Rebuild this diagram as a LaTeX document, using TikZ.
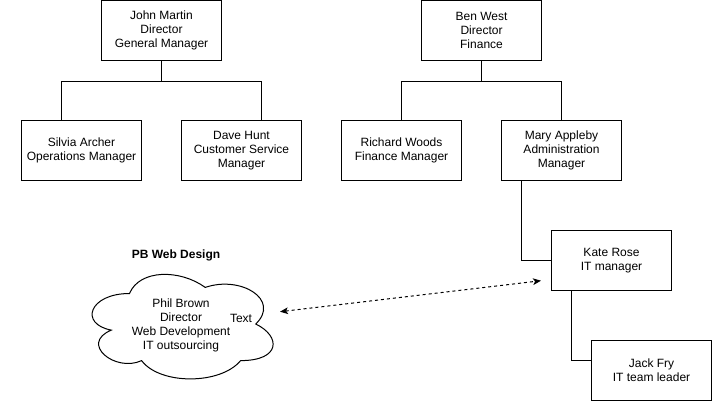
\documentclass[tikz,border=0pt]{standalone}
\usepackage{fontspec}
\setmainfont{Liberation Sans}
\usepackage{tikz}
\usetikzlibrary{arrows.meta}

\newcommand{\orgfont}{\fontsize{9}{10.5}\selectfont}

\begin{document}
\begin{tikzpicture}[x=0.75pt, y=-0.75pt,
    orgbox/.style={draw, line width=0.75pt, minimum width=90pt,
    minimum height=45pt, align=center, font=\orgfont},
    tree/.style={line width=0.75pt, to path={(\tikztostart.south) -- ++(0,20) -| ([xshift=#1]\tikztotarget.north)}},
    tree/.default=0pt,
    link/.style={line width=0.75pt, dash pattern=on 2.25pt off 2.25pt,
    {Stealth[length=6pt, width=5pt, inset=1.5pt]}-{Stealth[length=6pt, width=5pt, inset=1.5pt]}}]
    \useasboundingbox (0,0) rectangle (712,401);
    % first branch
    \node[orgbox] (john)    at (161.5,30.5)  {John Martin\\Director\\General Manager};
    \node[orgbox] (silvia)  at (81.5,150.5)  {Silvia Archer\\Operations Manager};
    \node[orgbox] (dave)    at (241.5,150.5) {Dave Hunt\\Customer Service\\Manager};
    % second branch
    \node[orgbox] (ben)     at (481.5,30.5)  {Ben West\\Director\\Finance};
    \node[orgbox] (richard) at (401.5,150.5) {Richard Woods\\Finance Manager};
    \node[orgbox] (mary)    at (561.5,150.5) {Mary Appleby\\Administration\\Manager};
    \node[orgbox] (kate)    at (611.5,260.5) {Kate Rose\\IT manager};
    \node[orgbox] (jack)    at (651.5,370.5) {Jack Fry\\IT team leader};
    \path
      (john) edge[tree=-15pt] (silvia)
             edge[tree=15pt] (dave)
      (ben)  edge[tree] (richard)
             edge[tree] (mary);
    \draw[line width=0.75pt] ([xshift=15pt]mary.south west) |- (kate.west);
    \draw[line width=0.75pt] ([xshift=15pt]kate.south west) |- ([yshift=7.5pt]jack.west);
    % outsourcing cloud
    \begin{scope}[shift={(79,263)}, x=151.5pt, y=-91.5pt]
      \draw[line width=0.75pt] (0.25,0.25) .. controls (0.05,0.25) and (0,0.5) .. (0.16,0.55)
        .. controls (0,0.66) and (0.18,0.9) .. (0.31,0.8)
        .. controls (0.4,1) and (0.7,1) .. (0.8,0.8)
        .. controls (1,0.8) and (1,0.6) .. (0.875,0.5)
        .. controls (1,0.3) and (0.8,0.1) .. (0.625,0.2)
        .. controls (0.5,0.05) and (0.3,0.05) .. (0.25,0.25) -- cycle;
    \end{scope}
    \node[font=\orgfont\bfseries] (pbweb) at (176,255) {PB Web Design};
    \node[font=\orgfont, align=center] (phil) at (181,325.5) {Phil Brown\\Director\\Web Development\\IT outsourcing};
    \node[font=\orgfont] (cloudtext) at (241,318) {Text};
    \coordinate (pbend) at (280,311.7);
    \coordinate (itend) at (541,280.7);
    \draw[link] (pbend) -- (itend);
\end{tikzpicture}
\end{document}
